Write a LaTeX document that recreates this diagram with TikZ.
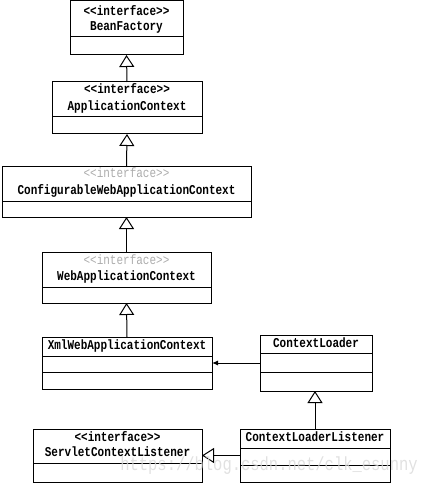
\documentclass[tikz,border=0pt]{standalone}
\usepackage{fontspec}
\newfontfamily\umlfont[FakeStretch=0.815]{Liberation Mono}
\usetikzlibrary{arrows.meta,calc}
\begin{document}
\begin{tikzpicture}[x=1pt,y=-1pt,line width=1pt,
    classbox/.style={draw, rectangle, anchor=north west, inner sep=0pt, outer sep=0pt},
    title/.style={font=\umlfont\bfseries\fontsize{13.5}{13.5}\selectfont, inner sep=0pt, text height=9.5pt, text depth=2.5pt},
    stereo/.style={title},
    stereogray/.style={font=\umlfont\fontsize{13.5}{13.5}\selectfont, inner sep=0pt, text height=9.5pt, text depth=2.5pt, text=gray!65},
    inherit/.style={-{Triangle[open,length=12pt,width=15pt]}},
    uses/.style={-{Latex[length=6pt,width=5pt]}},
    watermark/.style={font=\umlfont\fontsize{19}{19}\selectfont, text=gray!30, opacity=0.8}]
    \useasboundingbox (0,0) rectangle (441,486);
    
    % interfaces
    \node[classbox, minimum width=113, minimum height=54] (bf) at (70,1) {};
    \node[stereo] (bf-s) at ($(bf.north)+(0,11)$) {<<interface>>};
    \node[title] (bf-t) at ($(bf.north)+(0,26)$) {BeanFactory};
    \draw ($(bf.north west)+(0,36)$) -- ($(bf.north east)+(0,36)$);
    
    \node[classbox, minimum width=150, minimum height=52] (ac) at (52,82) {};
    \node[stereo] (ac-s) at ($(ac.north)+(0,8)$) {<<interface>>};
    \node[title] (ac-t) at ($(ac.north)+(0,25)$) {ApplicationContext};
    \draw ($(ac.north west)+(0,35)$) -- ($(ac.north east)+(0,35)$);
    
    \node[classbox, minimum width=249, minimum height=50] (cwac) at (2,167) {};
    \node[stereogray] (cwac-s) at ($(cwac.north)+(0,7)$) {<<interface>>};
    \node[title] (cwac-t) at ($(cwac.north)+(0,24)$) {ConfigurableWebApplicationContext};
    \draw ($(cwac.north west)+(0,34)$) -- ($(cwac.north east)+(0,34)$);
    
    \node[classbox, minimum width=169, minimum height=51] (wac) at (42,252) {};
    \node[stereogray] (wac-s) at ($(wac.north)+(0,9)$) {<<interface>>};
    \node[title] (wac-t) at ($(wac.north)+(0,25)$) {WebApplicationContext};
    \draw ($(wac.north west)+(0,35)$) -- ($(wac.north east)+(0,35)$);
    
    % classes
    \node[classbox, minimum width=170, minimum height=52] (xwac) at (42,337) {};
    \node[title] (xwac-t) at ($(xwac.north)+(0,9)$) {XmlWebApplicationContext};
    \draw ($(xwac.north west)+(0,19)$) -- ($(xwac.north east)+(0,19)$);
    \draw ($(xwac.north west)+(0,35)$) -- ($(xwac.north east)+(0,35)$);
    
    \node[classbox, minimum width=112, minimum height=56] (cl) at (260,335) {};
    \node[title] (cl-t) at ($(cl.north)+(0,9)$) {ContextLoader};
    \draw ($(cl.north west)+(0,18)$) -- ($(cl.north east)+(0,18)$);
    \draw ($(cl.north west)+(0,37)$) -- ($(cl.north east)+(0,37)$);
    
    \node[classbox, minimum width=150, minimum height=53] (cll) at (240,429) {};
    \node[title] (cll-t) at ($(cll.north)+(0,9)$) {ContextLoaderListener};
    \draw ($(cll.north west)+(0,19)$) -- ($(cll.north east)+(0,19)$);
    \draw ($(cll.north west)+(0,36)$) -- ($(cll.north east)+(0,36)$);
    
    \node[classbox, minimum width=169, minimum height=53] (scl) at (33,429) {};
    \node[stereo] (scl-s) at ($(scl.north)+(0,9)$) {<<interface>>};
    \node[title] (scl-t) at ($(scl.north)+(0,24)$) {ServletContextListener};
    \draw ($(scl.north west)+(0,34)$) -- ($(scl.north east)+(0,34)$);
    
    % relations
    \draw[inherit] (ac.north) -- (bf.south);
    \draw[inherit] (cwac.north) -- (ac.south);
    \draw[inherit] (wac.north) -- (cwac.south);
    \draw[inherit] (xwac.north) -- (wac.south);
    \draw[inherit] (cll.north) -- (cll.north |- cl.south);
    \draw[inherit] (cll.west) -- (scl.east);
    \draw[uses] (cl.west) -- (xwac.east);
    
    \node[watermark] (wm) at (269,466) {https://blog.csdn.net/clk\_esunny};
\end{tikzpicture}
\end{document}
